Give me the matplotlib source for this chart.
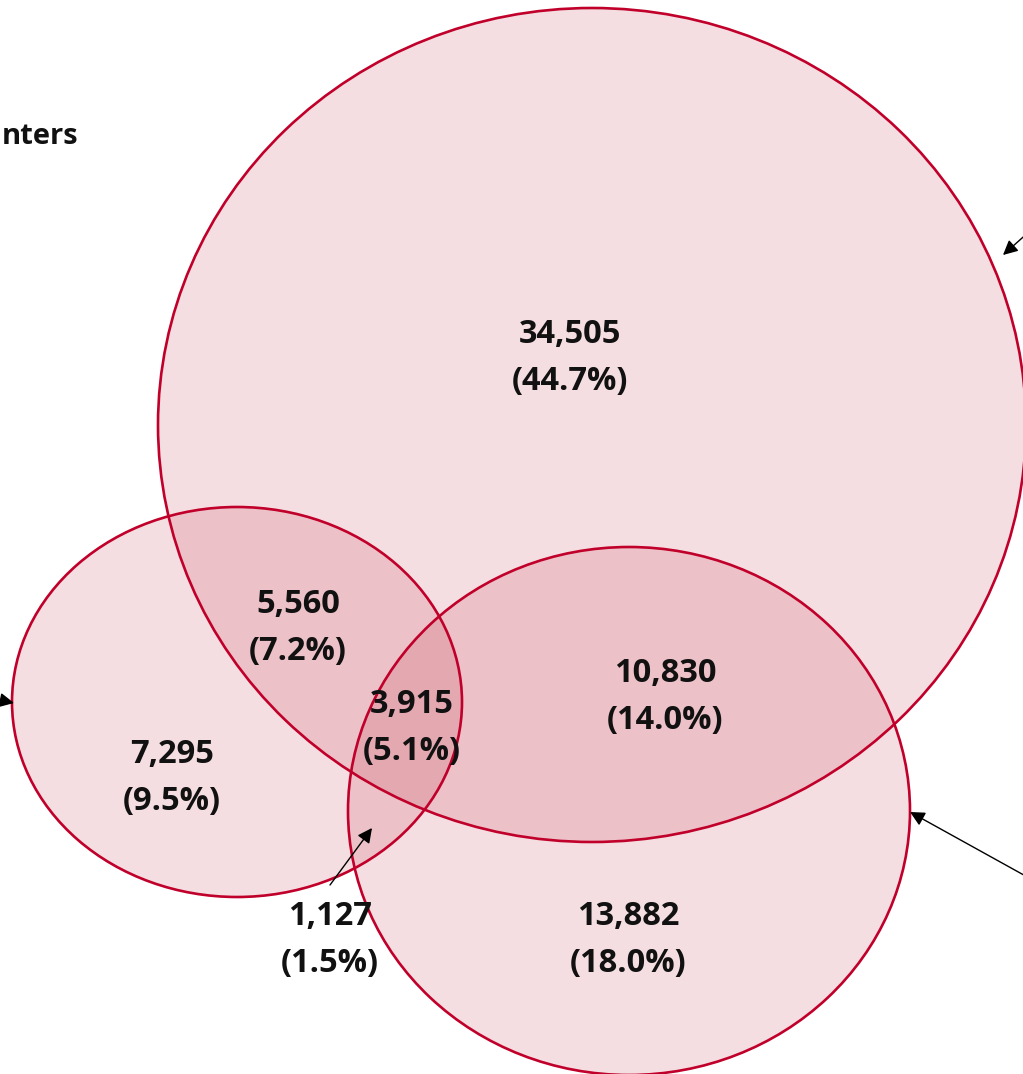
import matplotlib.pyplot as plt
from matplotlib.patches import Ellipse

# region counts and shares
labels = ["34,505", "5,560", "3,915", "10,830", "7,295", "13,882", "1,127"]
shares = ["44.7%", "7.2%", "5.1%", "14.0%", "9.5%", "18.0%", "1.5%"]
label_pos = [(570, 358), (298, 628), (412, 728), (665, 697),
             (172, 778), (628, 940), (330, 940)]

# circles: center x, center y, width, height (pixel space)
circles = [(592, 425, 868, 834),   # big top set
           (237, 702, 450, 390),   # left set
           (629, 811, 562, 528)]   # bottom set

edge = "#C0002A"
fill = "#B4001E"

fig = plt.figure(figsize=(10.23, 10.74), dpi=100)
ax = fig.add_axes([0, 0, 1, 1])
ax.set_xlim(0, 1023)
ax.set_ylim(1074, 0)
ax.axis("off")

for cx, cy, w, h in circles:
    ax.add_patch(Ellipse((cx, cy), w, h, facecolor=fill, alpha=0.13, edgecolor="none"))
for cx, cy, w, h in circles:
    ax.add_patch(Ellipse((cx, cy), w, h, facecolor="none", edgecolor=edge, lw=1.9))

for (x, y), num, pct in zip(label_pos, labels, shares):
    ax.text(x, y, num + "\n(" + pct + ")", ha="center", va="center",
            fontsize=23.5, fontweight="bold", family="Open Sans", linespacing=1.55,
            color="#111111")

# title is cut off by the left edge in the reference
ax.text(78, 137, "nters", ha="right", va="center",
        fontsize=21, fontweight="bold", family="Open Sans", color="#111111")

arrows = [((1040, 222), (1003, 255)),
          ((1040, 884), (910, 812)),
          ((-15, 697), (14, 703)),
          ((330, 885), (372, 828))]
for start, end in arrows:
    ax.annotate("", xy=end, xytext=start, annotation_clip=False,
                arrowprops=dict(arrowstyle="-|>", color="black", lw=1,
                                mutation_scale=22, shrinkA=0, shrinkB=0))

fig.savefig("out.png", dpi=100)
